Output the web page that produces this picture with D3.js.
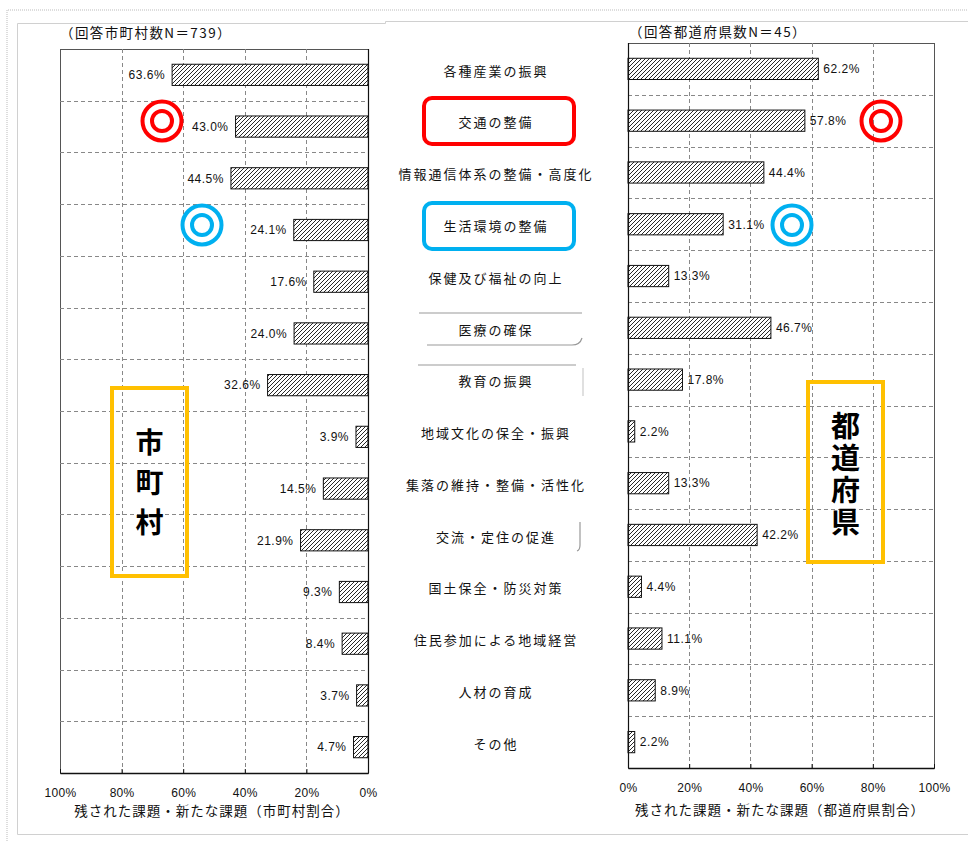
<!DOCTYPE html>
<html>
<head>
<meta charset="utf-8">
<script src="https://cdn.jsdelivr.net/npm/d3@7"></script>
<style>
  body { margin: 0; background: #fff; }
  svg { display: block; font-family: "Noto Sans CJK JP", "Noto Sans", sans-serif; }
</style>
</head>
<body>
<svg id="chart" width="968" height="841"></svg>
<script>
// Issues categories (shared by both panels)
const categories = [
  "各種産業の振興", "交通の整備", "情報通信体系の整備・高度化", "生活環境の整備",
  "保健及び福祉の向上", "医療の確保", "教育の振興", "地域文化の保全・振興",
  "集落の維持・整備・活性化", "交流・定住の促進", "国土保全・防災対策",
  "住民参加による地域経営", "人材の育成", "その他"
];
// Municipalities (N=739), percent
const municipalValues = [63.6, 43.0, 44.5, 24.1, 17.6, 24.0, 32.6, 3.9, 14.5, 21.9, 9.3, 8.4, 3.7, 4.7];
// Prefectures (N=45), percent
const prefectureValues = [62.2, 57.8, 44.4, 31.1, 13.3, 46.7, 17.8, 2.2, 13.3, 42.2, 4.4, 11.1, 8.9, 2.2];
const tickValues = [0, 20, 40, 60, 80, 100];
const leftTitle = "（回答市町村数N＝739）";
const rightTitle = "（回答都道府県数N＝45）";
const leftAxisTitle = "残された課題・新たな課題（市町村割合）";
const rightAxisTitle = "残された課題・新たな課題（都道府県割合）";

const svg = d3.select("#chart");

// page frames
svg.append("path")
  .attr("d", "M7,841 V10 H968")
  .attr("fill", "none").attr("stroke", "#bbb").attr("stroke-dasharray", "1,1");
svg.append("path")
  .attr("d", "M968,21.5 H385.5 V23.5 H17.5 V834.5 H968")
  .attr("fill", "none").attr("stroke", "#d0d0d0");

const defs = svg.append("defs");
const pat = defs.append("pattern")
  .attr("id", "hatch").attr("patternUnits", "userSpaceOnUse")
  .attr("width", 4).attr("height", 4);
pat.append("rect").attr("width", 4).attr("height", 4).attr("fill", "#fff");
pat.append("path")
  .attr("d", "M-1,1 L1,-1 M0,4 L4,0 M3,5 L5,3")
  .attr("stroke", "#111").attr("stroke-width", 0.9);

const fmt = d => d.toFixed(1) + "%";

function panel(opts) {
  const { x0, x1, y0, y1, values, reversed, title, titleX, titleY, axisTitle, axisTitleX, axisTitleY } = opts;
  const g = svg.append("g");
  const x = d3.scaleLinear().domain(reversed ? [100, 0] : [0, 100]).range([x0, x1]);
  const y = d3.scaleBand().domain(categories).range([y0, y1])
    .paddingInner(0.59).paddingOuter(0.295);
  const step = y.step();

  // plot border
  g.append("rect").attr("x", x0 + 0.5).attr("y", y0 + 0.5)
    .attr("width", x1 - x0).attr("height", y1 - y0)
    .attr("fill", "none").attr("stroke", "#555");

  // vertical grid
  g.selectAll(".vg").data(tickValues.filter(t => t > 0 && t < 100)).join("line")
    .attr("x1", d => Math.round(x(d)) + 0.5).attr("x2", d => Math.round(x(d)) + 0.5)
    .attr("y1", y0).attr("y2", y1)
    .attr("stroke", "#888").attr("stroke-dasharray", "4,3");
  // horizontal grid between rows
  g.selectAll(".hg").data(categories.slice(1)).join("line")
    .attr("x1", x0).attr("x2", x1)
    .attr("y1", d => Math.round(y(d) - (step - y.bandwidth()) / 2) + 0.5)
    .attr("y2", d => Math.round(y(d) - (step - y.bandwidth()) / 2) + 0.5)
    .attr("stroke", "#888").attr("stroke-dasharray", "4,3");

  // bars
  const zeroX = x(0);
  g.selectAll(".bar").data(values).join("rect")
    .attr("x", d => reversed ? x(d) : zeroX)
    .attr("width", d => Math.abs(x(d) - zeroX))
    .attr("y", (d, i) => y(categories[i]))
    .attr("height", y.bandwidth())
    .attr("fill", "url(#hatch)").attr("stroke", "#111").attr("stroke-width", 1);

  // value labels
  g.selectAll(".val").data(values).join("text")
    .attr("x", d => reversed ? x(d) - 7 : x(d) + 5)
    .attr("y", (d, i) => y(categories[i]) + y.bandwidth() / 2)
    .attr("dy", "0.36em")
    .attr("text-anchor", reversed ? "end" : "start")
    .attr("font-family", "Liberation Sans, Arial, sans-serif")
    .attr("font-size", 12).attr("letter-spacing", 0.5).attr("fill", "#111")
    .text(fmt);

  // value axis (base line at 0)
  g.append("line")
    .attr("x1", Math.round(zeroX) + 0.5).attr("x2", Math.round(zeroX) + 0.5)
    .attr("y1", y0).attr("y2", y1).attr("stroke", "#111").attr("stroke-width", 1.2);

  const axis = d3.axisBottom(x).tickValues(tickValues)
    .tickFormat(d => d + "%").tickSizeInner(-4).tickSizeOuter(0).tickPadding(15);
  const ag = g.append("g").attr("transform", `translate(0,${y1})`).call(axis);
  ag.select(".domain").attr("stroke", "#111").attr("stroke-width", 1.5);
  ag.selectAll(".tick line").attr("stroke", "#111");
  ag.selectAll(".tick text")
    .attr("font-family", "Liberation Sans, Arial, sans-serif")
    .attr("font-size", 12).attr("letter-spacing", 0.3).attr("fill", "#111");

  // titles
  svg.append("text").attr("x", titleX).attr("y", titleY)
    .attr("font-size", 13.5).attr("letter-spacing", 1.4).attr("fill", "#111")
    .text(title);
  svg.append("text").attr("x", axisTitleX).attr("y", axisTitleY)
    .attr("text-anchor", "middle").attr("font-size", 13.5).attr("letter-spacing", 1)
    .attr("fill", "#111").text(axisTitle);
}

panel({
  x0: 60, x1: 368, y0: 49, y1: 773, values: municipalValues, reversed: true,
  title: leftTitle, titleX: 60, titleY: 38,
  axisTitle: leftAxisTitle, axisTitleX: 212, axisTitleY: 816
});
panel({
  x0: 628, x1: 934, y0: 43, y1: 768, values: prefectureValues, reversed: false,
  title: rightTitle, titleX: 629, titleY: 37,
  axisTitle: rightAxisTitle, axisTitleX: 780, axisTitleY: 815
});

// center category labels
const yMid = d3.scaleBand().domain(categories).range([45, 770]);
svg.append("g").selectAll("text").data(categories).join("text")
  .attr("x", 496)
  .attr("y", d => yMid(d) + yMid.bandwidth() / 2)
  .attr("dy", "0.36em")
  .attr("text-anchor", "middle")
  .attr("font-size", 13).attr("letter-spacing", 2).attr("fill", "#111")
  .text(d => d);

// faint outline strokes around some labels
const faint = svg.append("g").attr("fill", "none").attr("stroke", "#999").attr("stroke-width", 1.2);
faint.append("path").attr("d", "M419,313 H582");
faint.append("path").attr("d", "M427,345 H572 Q580,345 582,338");
faint.append("path").attr("d", "M418,365 H576");
faint.append("path").attr("d", "M583,368 V396").attr("stroke", "#ccc");
faint.append("path").attr("d", "M580,522 V545 Q580,550 577,551");

// highlight boxes around labels
svg.append("rect").attr("x", 424).attr("y", 98).attr("width", 150).attr("height", 46)
  .attr("rx", 8).attr("fill", "none").attr("stroke", "#ff0000").attr("stroke-width", 4);
svg.append("rect").attr("x", 424).attr("y", 203).attr("width", 150).attr("height", 46)
  .attr("rx", 8).attr("fill", "none").attr("stroke", "#00b0f0").attr("stroke-width", 4);

// target markers
const targets = [
  { cx: 162, cy: 121, color: "#ff0000" },
  { cx: 881, cy: 121, color: "#ff0000" },
  { cx: 202, cy: 225, color: "#00b0f0" },
  { cx: 792, cy: 225, color: "#00b0f0" }
];
targets.forEach(t => {
  [19.5, 10].forEach(r => {
    svg.append("circle").attr("cx", t.cx).attr("cy", t.cy).attr("r", r)
      .attr("fill", "none").attr("stroke", t.color).attr("stroke-width", 4);
  });
});

// panel name boxes with vertical text
function nameBox(x, y, w, h, label, cy, size, spacing) {
  svg.append("rect").attr("x", x).attr("y", y).attr("width", w).attr("height", h)
    .attr("fill", "none").attr("stroke", "#ffc000").attr("stroke-width", 4);
  svg.append("text")
    .attr("x", x + w / 2).attr("y", cy + spacing / 2)
    .attr("writing-mode", "vertical-rl")
    .style("writing-mode", "vertical-rl")
    .attr("text-anchor", "middle").attr("font-weight", "bold")
    .attr("font-size", size).attr("letter-spacing", spacing)
    .attr("fill", "#000").text(label);
}
nameBox(112, 388, 75, 188, "市町村", 482, 28, 12);
nameBox(808, 382, 75, 180, "都道府県", 474, 29, 3);
</script>
</body>
</html>
